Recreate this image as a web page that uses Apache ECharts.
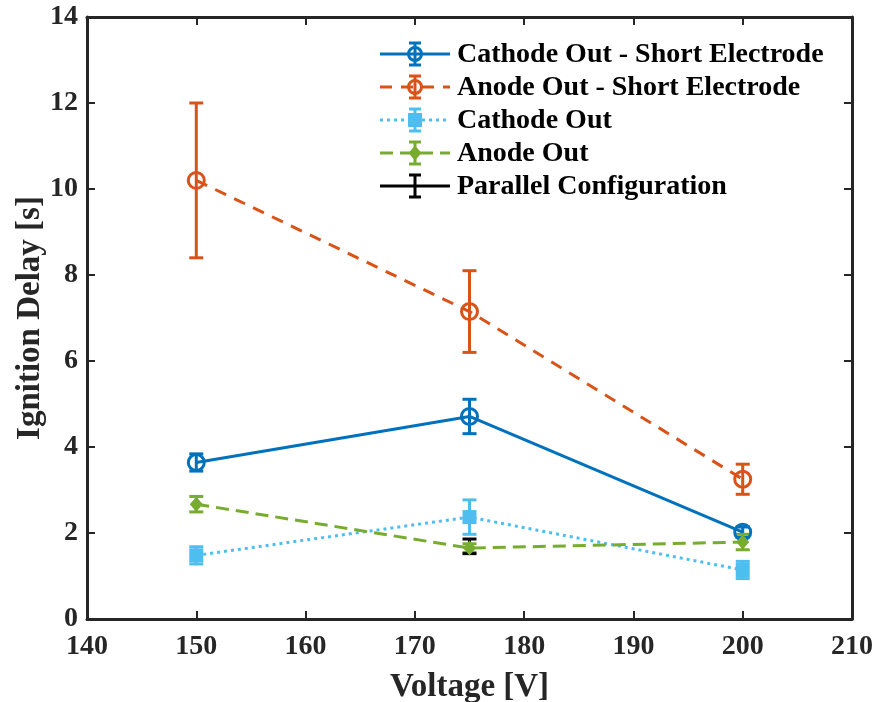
<!DOCTYPE html>
<html>
<head>
<meta charset="utf-8">
<script src="https://cdn.jsdelivr.net/npm/echarts@6/dist/echarts.min.js"></script>
<style>
  html, body { margin: 0; padding: 0; background: #fff; }
  #chart { width: 876px; height: 702px; }
</style>
</head>
<body>
<div id="chart"></div>
<script>
// Voltages tested [V]
const voltages = [150, 175, 200];

// Mean ignition delay [s] and half-width of error bar [s]
const cathodeShortMean = [3.64, 4.71, 2.02];
const cathodeShortErr  = [0.20, 0.40, 0.12];
const anodeShortMean   = [10.2, 7.15, 3.25];
const anodeShortErr    = [1.80, 0.95, 0.35];
const cathodeMean      = [1.48, 2.37, 1.14];
const cathodeErr       = [0.20, 0.40, 0.20];
const anodeMean        = [2.67, 1.65, 1.79];
const anodeErr         = [0.18, 0.10, 0.18];
const parallelVoltage  = [175];
const parallelMean     = [1.69];
const parallelErr      = [0.17];

const xTicks = [140, 150, 160, 170, 180, 190, 200, 210];
const yTicks = [0, 2, 4, 6, 8, 10, 12, 14];

const FONT = '"Liberation Serif", "Times New Roman", serif';
const INK = '#262626';

const seriesDefs = [
  { name: 'Cathode Out - Short Electrode', color: '#0072BD', x: voltages, mean: cathodeShortMean, err: cathodeShortErr,
    line: { type: 'solid', width: 3 }, symbol: 'ring', size: 16 },
  { name: 'Anode Out - Short Electrode', color: '#D95319', x: voltages, mean: anodeShortMean, err: anodeShortErr,
    line: { type: [12, 9], width: 3 }, symbol: 'ring', size: 16 },
  { name: 'Cathode Out', color: '#4DBEEE', x: voltages, mean: cathodeMean, err: cathodeErr,
    line: { type: [3, 4], width: 3 }, symbol: 'rect', size: 14 },
  { name: 'Anode Out', color: '#77AC30', x: voltages, mean: anodeMean, err: anodeErr,
    line: { type: [13, 7], width: 3 }, symbol: 'diamond', size: [13, 15] },
  { name: 'Parallel Configuration', color: '#000000', x: parallelVoltage, mean: parallelMean, err: parallelErr,
    line: { type: 'solid', width: 3 }, symbol: 'none', size: 0, noLine: true }
];

const CAP = 7;

function errorBarSeries(def) {
  const data = def.x.map((v, i) => [v, def.mean[i] - def.err[i], def.mean[i] + def.err[i]]);
  return {
    type: 'custom',
    name: def.name,
    data: data,
    z: 3,
    renderItem: function (params, api) {
      const lo = api.coord([api.value(0), api.value(1)]);
      const hi = api.coord([api.value(0), api.value(2)]);
      const st = { stroke: def.color, lineWidth: 3 };
      return {
        type: 'group',
        children: [
          { type: 'line', shape: { x1: lo[0], y1: lo[1], x2: hi[0], y2: hi[1] }, style: st },
          { type: 'line', shape: { x1: lo[0] - CAP, y1: lo[1], x2: lo[0] + CAP, y2: lo[1] }, style: st },
          { type: 'line', shape: { x1: hi[0] - CAP, y1: hi[1], x2: hi[0] + CAP, y2: hi[1] }, style: st }
        ]
      };
    }
  };
}

function lineSeries(def) {
  const ring = def.symbol === 'ring';
  return {
    type: 'line',
    name: def.name,
    data: def.x.map((v, i) => [v, def.mean[i]]),
    symbol: ring ? 'circle' : def.symbol,
    symbolSize: def.size,
    showSymbol: def.symbol !== 'none',
    z: 4,
    lineStyle: def.noLine ? { width: 0, opacity: 0 } : { color: def.color, width: def.line.width, type: def.line.type },
    itemStyle: ring
      ? { color: 'rgba(0,0,0,0)', borderColor: def.color, borderWidth: 3 }
      : { color: def.color, borderWidth: 0 },
    emphasis: { disabled: true },
    animation: false
  };
}

const series = [];
seriesDefs.forEach(d => {
  series.push(errorBarSeries(d));
  series.push(lineSeries(d));
});

// Legend glyphs: line sample + error bar + marker, then label
const legendX0 = 380, legendX1 = 450, legendMid = 415, legendTextX = 457;
const legendY0 = 54, legendGap = 33;
const legendGraphics = [];
seriesDefs.forEach((d, i) => {
  const y = legendY0 + i * legendGap;
  const dash = d.line.type === 'solid' ? null : d.line.type;
  legendGraphics.push({ type: 'line', shape: { x1: legendX0, y1: y, x2: legendX1, y2: y },
    style: { stroke: d.color, lineWidth: 3, lineDash: dash }, z: 10 });
  const st = { stroke: d.color, lineWidth: 3 };
  legendGraphics.push({ type: 'line', shape: { x1: legendMid, y1: y - 11, x2: legendMid, y2: y + 11 }, style: st, z: 10 });
  legendGraphics.push({ type: 'line', shape: { x1: legendMid - 6, y1: y - 11, x2: legendMid + 6, y2: y - 11 }, style: st, z: 10 });
  legendGraphics.push({ type: 'line', shape: { x1: legendMid - 6, y1: y + 11, x2: legendMid + 6, y2: y + 11 }, style: st, z: 10 });
  if (d.symbol === 'ring') {
    legendGraphics.push({ type: 'circle', shape: { cx: legendMid, cy: y, r: 6.5 },
      style: { fill: 'rgba(0,0,0,0)', stroke: d.color, lineWidth: 3 }, z: 11 });
  } else if (d.symbol === 'rect') {
    legendGraphics.push({ type: 'rect', shape: { x: legendMid - 7, y: y - 7, width: 14, height: 14 },
      style: { fill: d.color }, z: 11 });
  } else if (d.symbol === 'diamond') {
    legendGraphics.push({ type: 'polygon', shape: { points: [[legendMid, y - 7.5], [legendMid + 6.5, y], [legendMid, y + 7.5], [legendMid - 6.5, y]] },
      style: { fill: d.color }, z: 11 });
  }
  legendGraphics.push({ type: 'text', x: legendTextX, y: y + 1, z: 10,
    style: { text: d.name, font: 'bold 28px ' + FONT, fill: '#000', verticalAlign: 'middle' } });
});

const axisCommon = {
  axisLine: { show: true, onZero: false, lineStyle: { color: INK, width: 3 } },
  axisTick: { show: true, inside: true, length: 8, lineStyle: { color: INK, width: 2 } },
  splitLine: { show: false }
};

const option = {
  backgroundColor: '#fff',
  animation: false,
  grid: { left: 87, right: 24, top: 17, bottom: 83, containLabel: false, outerBoundsMode: 'none' },
  xAxis: [
    Object.assign({}, axisCommon, {
      type: 'value', min: xTicks[0], max: xTicks[xTicks.length - 1], interval: 10,
      name: 'Voltage [V]', nameLocation: 'middle', nameGap: 52, nameMoveOverlap: false,
      nameTextStyle: { fontFamily: FONT, fontWeight: 'bold', fontSize: 33, color: INK },
      axisLabel: { fontFamily: FONT, fontWeight: 'bold', fontSize: 28, color: INK, margin: 14 }
    }),
    Object.assign({}, axisCommon, {
      type: 'value', position: 'top', min: xTicks[0], max: xTicks[xTicks.length - 1], interval: 10,
      axisLabel: { show: false }
    })
  ],
  yAxis: [
    Object.assign({}, axisCommon, {
      type: 'value', min: yTicks[0], max: yTicks[yTicks.length - 1], interval: 2,
      name: 'Ignition Delay [s]', nameLocation: 'middle', nameGap: 40, nameMoveOverlap: false,
      nameTextStyle: { fontFamily: FONT, fontWeight: 'bold', fontSize: 33, color: INK },
      axisLabel: { fontFamily: FONT, fontWeight: 'bold', fontSize: 28, color: INK, margin: 9 }
    }),
    Object.assign({}, axisCommon, {
      type: 'value', position: 'right', min: yTicks[0], max: yTicks[yTicks.length - 1], interval: 2,
      axisLabel: { show: false }
    })
  ],
  graphic: legendGraphics,
  series: series
};

const chart = echarts.init(document.getElementById('chart'), null, { renderer: 'canvas' });
chart.setOption(option);
</script>
</body>
</html>
